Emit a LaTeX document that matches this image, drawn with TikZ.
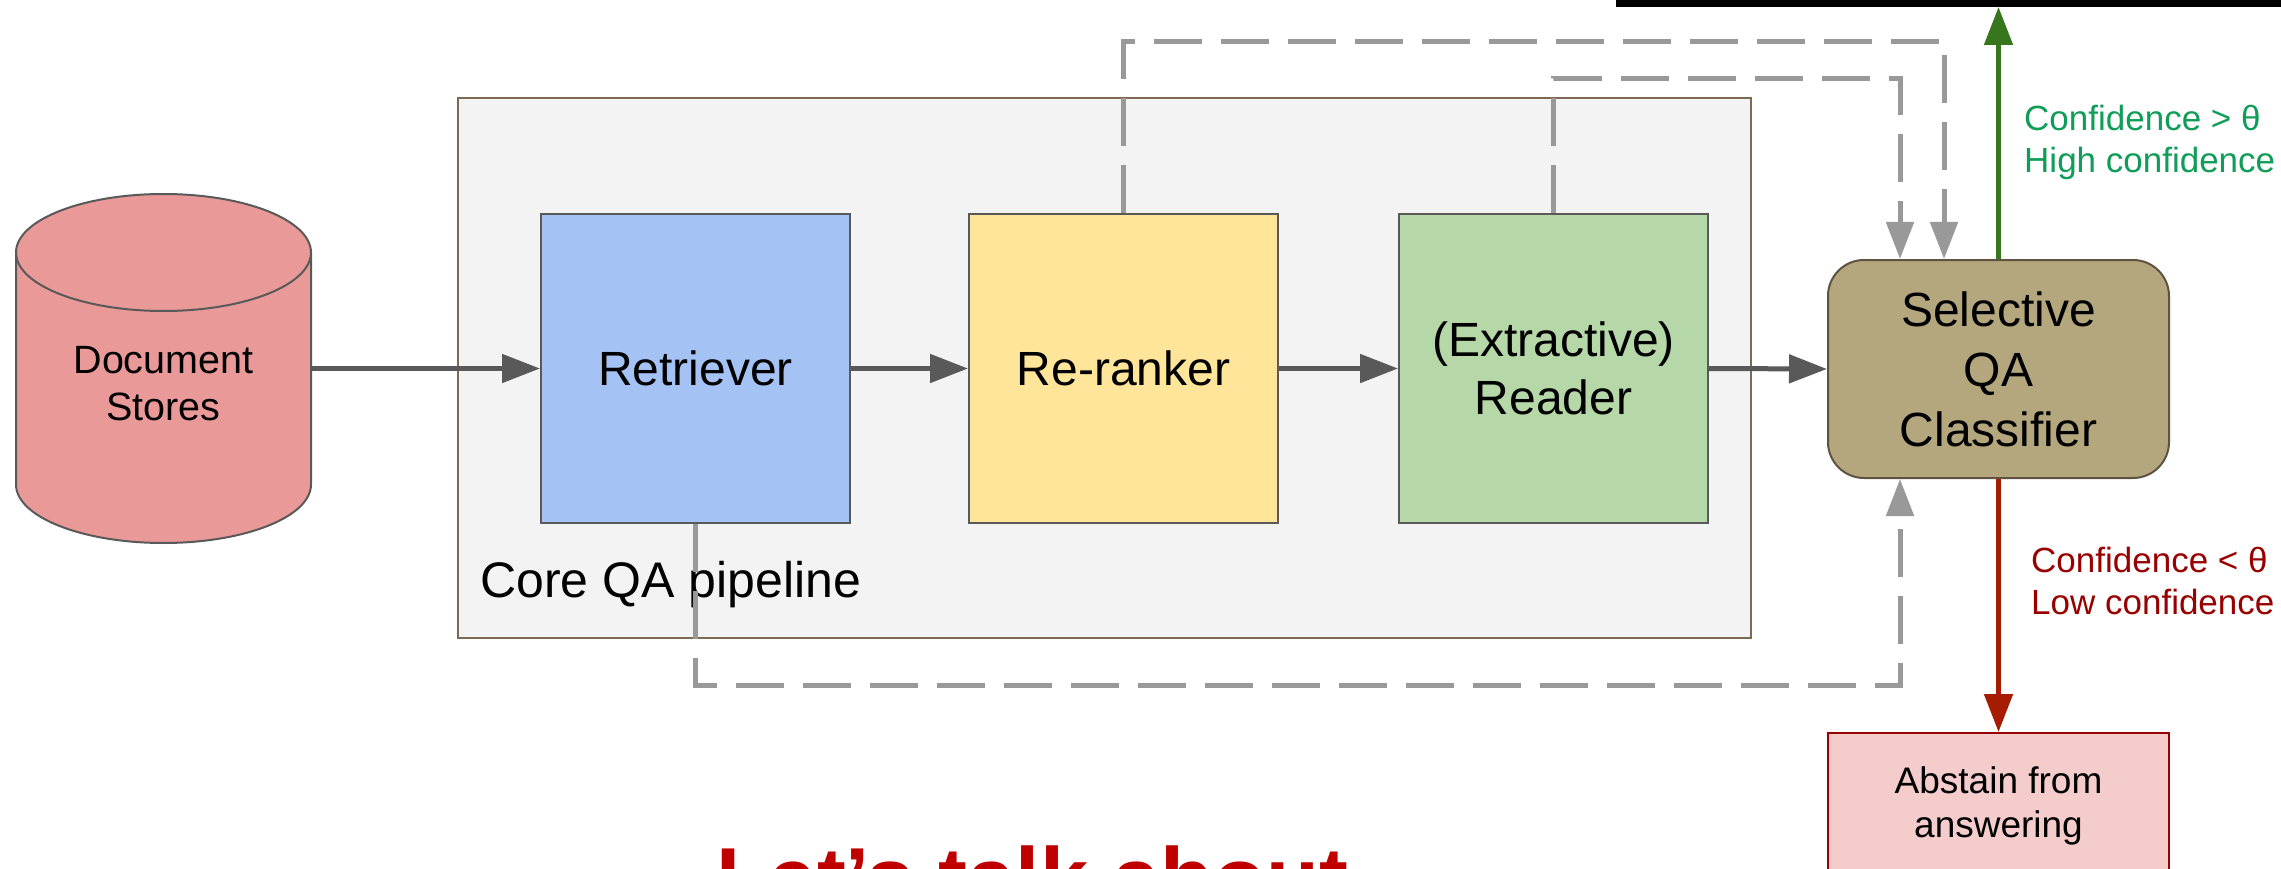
\documentclass[tikz,border=0pt]{standalone}
\usepackage{fontspec}
\setmainfont{Liberation Sans}
\usetikzlibrary{arrows.meta}
\definecolor{boxline}{HTML}{595959}
\definecolor{coreline}{HTML}{7A6B52}
\definecolor{corefill}{HTML}{F3F3F3}
\definecolor{dsfill}{HTML}{EA9999}
\definecolor{rtfill}{HTML}{A4C2F4}
\definecolor{rrfill}{HTML}{FFE599}
\definecolor{rdfill}{HTML}{B6D7A8}
\definecolor{selfill}{HTML}{B4A77D}
\definecolor{selline}{HTML}{5E5241}
\definecolor{abfill}{HTML}{F4CCCC}
\definecolor{abline}{HTML}{990000}
\definecolor{dashgray}{HTML}{999999}
\definecolor{hiarrow}{HTML}{38761D}
\definecolor{hitext}{HTML}{0F9D58}
\definecolor{loarrow}{HTML}{A61C00}
\definecolor{lotext}{HTML}{990000}
\definecolor{bigred}{HTML}{C00000}
\begin{document}
\begin{tikzpicture}[x=1pt,y=-1pt,
  stagebox/.style={draw=boxline, line width=2pt, minimum width=309pt, minimum height=309pt,
    inner sep=0pt, align=center, font=\fontsize{48}{58}\selectfont},
  solidarrow/.style={draw=boxline, line width=5pt, -{Triangle[length=38pt,width=28pt]}},
  dasharrow/.style={draw=dashgray, line width=5pt, dash pattern=on 48pt off 19pt,
    -{Triangle[length=37pt,width=27pt]}},
  condlabel/.style={anchor=west, inner sep=0pt, align=left, font=\fontsize{35}{42}\selectfont}]
\useasboundingbox (0,0) rectangle (2281,869);
% top black bar
\node[fill=black, inner sep=0pt, minimum width=700pt, minimum height=40pt, anchor=south west] (bar) at (1616,7) {};
% core box
\node[draw=coreline, fill=corefill, line width=2pt, minimum width=1293pt, minimum height=540pt, inner sep=0pt] (core) at (1104.5,368) {};
\node[anchor=west, inner sep=0pt, font=\fontsize{50}{58}\selectfont] (corelbl) at (480,585) {Core QA pipeline};
% cylinder
\filldraw[fill=dsfill, draw=boxline, line width=2pt]
  (16,252.5) -- (16,484.5) arc[start angle=180, end angle=360, x radius=147.5pt, y radius=58.5pt]
  -- (311,252.5) arc[start angle=0, end angle=180, x radius=147.5pt, y radius=58.5pt] -- cycle;
\draw[draw=boxline, line width=2pt] (16,252.5) arc[start angle=180, end angle=360, x radius=147.5pt, y radius=58.5pt];
\node[minimum width=295pt, minimum height=349pt, inner sep=0pt] (ds) at (163.5,368.5) {};
\node[align=center, inner sep=0pt, font=\fontsize{39.5}{47}\selectfont] (dstext) at (163.5,383.5) {Document\\Stores};
% dashed feedback line corners
\coordinate (t1) at (1944,42);
\coordinate (t2) at (1900,79);
\coordinate (t3) at (1900,685);
% stages
\node[stagebox, fill=rtfill] (rt) at (695.5,368.5) {Retriever};
\node[stagebox, fill=rrfill] (rr) at (1123.5,368.5) {Re-ranker};
\node[stagebox, fill=rdfill] (rd) at (1553.5,368.5) {(Extractive)\\Reader};
\node[draw=selline, fill=selfill, line width=2pt, rounded corners=36pt, minimum width=341pt, minimum height=218pt,
  inner sep=0pt, align=center, font=\fontsize{48}{60}\selectfont] (sel) at (1998.5,369) {Selective\\QA\\Classifier};
\node[draw=abline, fill=abfill, line width=2pt, minimum width=341pt, minimum height=146pt,
  inner sep=0pt, align=center, font=\fontsize{37}{44}\selectfont, anchor=north] (ab) at (1998.5,732) {Abstain from\\answering};
% dashed
\draw[dasharrow] (rr.north) |- (t1) -- (t1 |- sel.north);
\draw[dasharrow] (rd.north) |- (t2) -- (t2 |- sel.north);
\draw[dasharrow] (rt.south) |- (t3) -- (t3 |- sel.south);
% solid arrows
\draw[solidarrow] (ds.east |- rt.west) -- (rt.west);
\draw[solidarrow] (rt.east) -- (rr.west);
\draw[solidarrow] (rr.east) -- (rd.west);
\draw[solidarrow] (rd.east) -- (sel.west);
% confidence arrows
\draw[draw=hiarrow, line width=5pt, -{Triangle[length=38pt,width=28pt]}] (sel.north) -- (sel.north |- bar.south);
\draw[draw=loarrow, line width=5pt, -{Triangle[length=38pt,width=28pt]}] (sel.south) -- (ab.north);
\node[condlabel, text=hitext] (hilbl) at (2024,142) {Confidence > θ\\High confidence};
\node[condlabel, text=lotext] (lolbl) at (2031,581) {Confidence < θ\\Low confidence};
% big title (cut off as in the reference)
\node[anchor=base, inner sep=0pt, text=bigred, font=\bfseries\fontsize{86.6}{100}\selectfont] (title) at (1032,908) {Let’s talk about};
\end{tikzpicture}
\end{document}
